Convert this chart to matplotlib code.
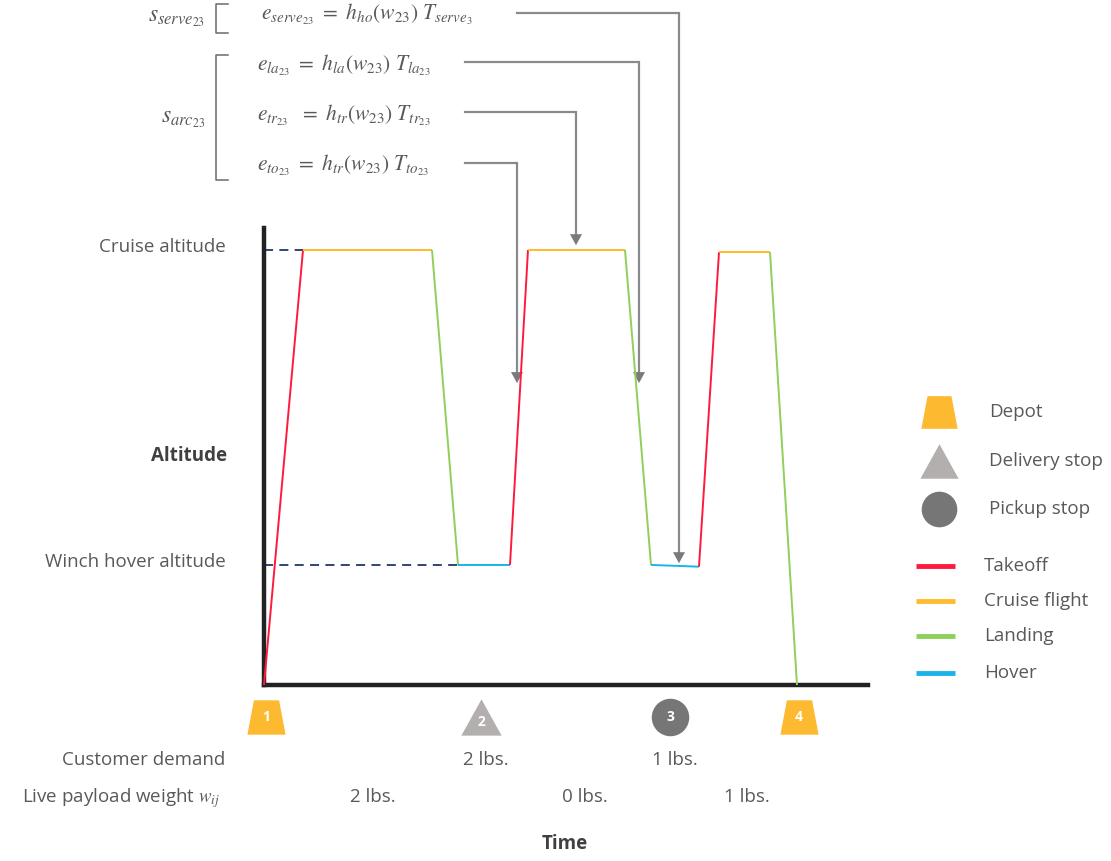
import matplotlib
matplotlib.use("Agg")
import matplotlib.pyplot as plt
from matplotlib.path import Path
from matplotlib.patches import Polygon
import numpy as np

plt.rcParams['font.family'] = ['Open Sans', 'DejaVu Sans']
plt.rcParams['mathtext.fontset'] = 'stix'

# ---------------- data ----------------
phase_time = [0, 39, 168, 194, 246, 264, 361, 387, 435, 455, 506, 533]
phase_alt = [0, 100, 100, 27.6, 27.6, 100, 100, 27.6, 27.2, 99.5, 99.5, 0]
segment_phase = ["Takeoff", "Cruise flight", "Landing", "Hover",
                 "Takeoff", "Cruise flight", "Landing", "Hover",
                 "Takeoff", "Cruise flight", "Landing"]
phase_colors = {"Takeoff": "#FF1A3C", "Cruise flight": "#FFBA2E",
                "Landing": "#8FD05A", "Hover": "#1BB3EA"}

cruise_alt = 100
hover_alt = 27.6
ref_levels = [("Cruise altitude", cruise_alt, 39), ("Winch hover altitude", hover_alt, 194)]

stop_time = [2, 217, 406, 535]
stop_label = ["1", "2", "3", "4"]
stop_kind = ["Depot", "Delivery stop", "Pickup stop", "Depot"]
customer_demand = ["", "2 lbs.", "1 lbs.", ""]
payload_time = [109, 321, 483]
payload_weight = ["2 lbs.", "0 lbs.", "1 lbs."]

eq_texts = [r"$e_{serve_{23}}\ =\ h_{ho}(w_{23})\ T_{serve_3}$",
            r"$e_{la_{23}}\ =\ h_{la}(w_{23})\ T_{la_{23}}$",
            r"$e_{tr_{23}}\ \ =\ h_{tr}(w_{23})\ T_{tr_{23}}$",
            r"$e_{to_{23}}\ =\ h_{tr}(w_{23})\ T_{to_{23}}$"]
# arrow targets on the profile (time, altitude)
eq_target = [(415, 28.0), (375, 69.4), (312, 101.1), (253, 69.4)]

# ---------------- figure ----------------
W, H = 1111, 861
fig = plt.figure(figsize=(W / 100, H / 100), dpi=100)
ov = fig.add_axes([0, 0, 1, 1], zorder=1)
ov.set_xlim(0, W)
ov.set_ylim(H, 0)
ov.axis('off')

ax_left, ax_bottom_px = 264, 685
ax = fig.add_axes([ax_left / W, (H - ax_bottom_px) / H, 604 / W, 105 * 4.35 / H], zorder=2)
ax.set_facecolor('none')
ax.set_xlim(0, 604)
ax.set_ylim(0, 105)
ax.set_xticks([])
ax.set_yticks([])
for s in ['top', 'right']:
    ax.spines[s].set_visible(False)
for s in ['left', 'bottom']:
    ax.spines[s].set_linewidth(3.2)
    ax.spines[s].set_color('#222222')
    ax.spines[s].set_capstyle('projecting')

TXT = '#595959'
FS = 13.5
MFS = 15.5

# reference dashed lines
for name, lvl, tend in ref_levels:
    ax.plot([0, tend], [lvl, lvl], color='#1F3864', lw=1.3, ls=(0, (5, 3.5)), zorder=1)

# profile
for i, ph in enumerate(segment_phase):
    ax.plot(phase_time[i:i + 2], phase_alt[i:i + 2], color=phase_colors[ph], lw=1.4,
            solid_capstyle='butt', zorder=3, clip_on=False)

def to_ov(t, a):
    return ov.transData.inverted().transform(ax.transData.transform((t, a)))

for name, lvl, tend in ref_levels:
    x, y = to_ov(0, lvl)
    ov.text(226, y - 3, name, ha='right', va='center', fontsize=FS, color=TXT)
ov.text(227, 456, "Altitude", ha='right', va='center', fontsize=13.5, fontweight='bold', color='#404040')
ov.text(565, 844, "Time", ha='center', va='center', fontsize=13.5, fontweight='bold', color='#404040')

# markers for stops
trap = Path([(-0.5, -0.45), (0.5, -0.45), (0.33, 0.45), (-0.33, 0.45), (-0.5, -0.45)],
            [Path.MOVETO, Path.LINETO, Path.LINETO, Path.LINETO, Path.CLOSEPOLY])
tri = Path([(-0.5, -0.45), (0.5, -0.45), (0.0, 0.45), (-0.5, -0.45)],
           [Path.MOVETO, Path.LINETO, Path.LINETO, Path.CLOSEPOLY])
kind_style = {"Depot": (trap, '#FDBA30', 27.5),
              "Delivery stop": (tri, '#B3AFAE', 29),
              "Pickup stop": ('o', '#767676', 27)}
marker_alt = -7.4
for t, lab, kind, dem in zip(stop_time, stop_label, stop_kind, customer_demand):
    m, c, ms = kind_style[kind]
    ax.plot([t], [marker_alt], marker=m, color=c, ms=ms, mew=0, ls='none', clip_on=False, zorder=4)
    dy = 1.2 if kind == "Delivery stop" else 0
    ax.text(t, marker_alt - dy, lab, ha='center', va='center', color='white', fontsize=10,
            fontweight='bold', clip_on=False, zorder=5)
    if dem:
        x, _ = to_ov(t, 0)
        ov.text(x + 5, 760, dem, ha='center', va='center', fontsize=FS, color=TXT)

ov.text(225, 760, "Customer demand", ha='right', va='center', fontsize=FS, color=TXT)
ov.text(220, 798, r"Live payload weight $w_{ij}$", ha='right', va='center', fontsize=FS, color=TXT)
for t, w in zip(payload_time, payload_weight):
    x, _ = to_ov(t, 0)
    ov.text(x, 797, w, ha='center', va='center', fontsize=FS, color=TXT)

# equations and brackets
eq_y = [14, 65, 115, 165]
eq_x = [261, 257, 257, 257]
eq_line_start = [517, 465, 465, 465]
eq_line_y = [13, 62, 112, 163]
for txt, x, y in zip(eq_texts, eq_x, eq_y):
    ov.text(x, y, txt, ha='left', va='center', fontsize=MFS, color=TXT)
ov.text(205, 17, r"$s_{serve_{23}}$", ha='right', va='center', fontsize=17, color=TXT)
ov.text(205, 118, r"$s_{arc_{23}}$", ha='right', va='center', fontsize=17, color=TXT)
for y0, y1 in [(4, 33), (55, 180)]:
    ov.plot([228, 216, 216, 228], [y0, y0, y1, y1], color='#6a6a6a', lw=1.1)

ARC = '#8a8a8a'
for (t, a), xs, yl in zip(eq_target, eq_line_start, eq_line_y):
    xt, yt = to_ov(t, a)
    head_len, head_w = 11, 12
    ov.plot([xs, xt, xt], [yl, yl, yt - head_len], color=ARC, lw=1.6, solid_joinstyle='miter')
    ov.add_patch(Polygon([(xt - head_w / 2, yt - head_len), (xt + head_w / 2, yt - head_len), (xt, yt)],
                         closed=True, color='#7a7a7a', lw=0, zorder=6))

# legend
for y, kind in zip([412, 461, 509], ["Depot", "Delivery stop", "Pickup stop"]):
    m, c, ms = kind_style[kind]
    ov.plot([939], [y], marker=m, color=c, ms=ms * 0.95, mew=0, ls='none')
    ov.text(989, y, kind, ha='left', va='center', fontsize=FS, color=TXT)
for y, ph in zip([566, 601, 636, 673], ["Takeoff", "Cruise flight", "Landing", "Hover"]):
    ov.plot([916, 955], [y, y], color=phase_colors[ph], lw=3.5, solid_capstyle='butt')
    ov.text(984, y, ph, ha='left', va='center', fontsize=FS, color=TXT)

fig.savefig('out.png', dpi=100, facecolor='white')
